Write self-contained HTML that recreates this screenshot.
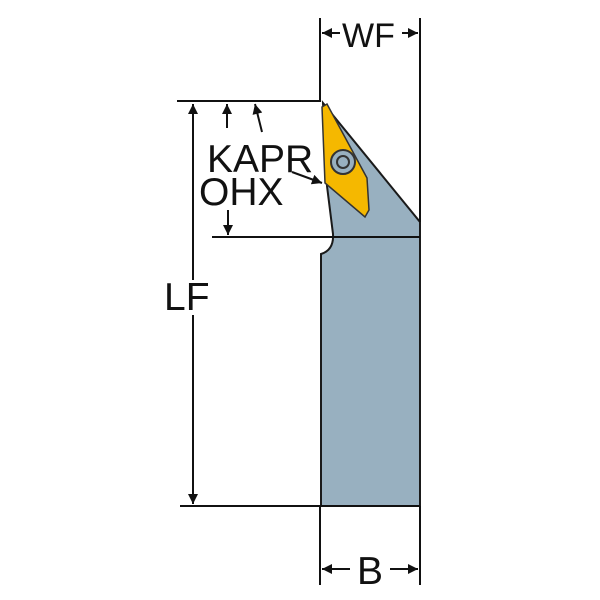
<!DOCTYPE html>
<html><head><style>body{margin:0;background:#fff}svg{display:block}</style></head><body>
<svg width="600" height="600" viewBox="0 0 600 600" xmlns="http://www.w3.org/2000/svg">
<defs><marker id="a" viewBox="0 0 10 10" refX="10" refY="5" markerWidth="7" markerHeight="5" orient="auto" markerUnits="strokeWidth"><path d="M0,0 L10,5 L0,10z" fill="#111"/></marker></defs>
<g fill="#111" font-family="Liberation Sans, sans-serif" font-size="39">
<path d="M323,103 L420,222 L420,506 L321,506 L321,254 Q334,250 333,234 L327,186 Z" fill="#98b0c0" stroke="#1a1a1a" stroke-width="2"/>
<path d="M322,107 L327,104 L367,178 L369,210 L365,217 L325,183 Z" fill="#f5b800" stroke="#333" stroke-width="1.5"/>
<circle cx="343" cy="162" r="12" fill="#98b0c0" stroke="#333" stroke-width="2"/>
<circle cx="343" cy="162" r="6" fill="none" stroke="#333" stroke-width="2"/>
<g stroke="#111" stroke-width="2" fill="none">
<line x1="177" y1="101" x2="321" y2="101"/>
<line x1="212" y1="237" x2="420" y2="237"/>
<line x1="180" y1="506" x2="420" y2="506"/>
<line x1="320" y1="18" x2="320" y2="101"/>
<line x1="420" y1="18" x2="420" y2="222"/>
<line x1="320" y1="506" x2="320" y2="585"/>
<line x1="420" y1="506" x2="420" y2="585"/>
<line x1="193" y1="280" x2="193" y2="104" marker-end="url(#a)"/>
<line x1="193" y1="315" x2="193" y2="504" marker-end="url(#a)"/>
<line x1="227" y1="128" x2="227" y2="104" marker-end="url(#a)"/>
<line x1="262" y1="132" x2="255" y2="104" marker-end="url(#a)"/>
<line x1="228" y1="210" x2="228" y2="235" marker-end="url(#a)"/>
<line x1="292" y1="172" x2="322" y2="183" marker-end="url(#a)"/>
<line x1="340" y1="33" x2="322" y2="33" marker-end="url(#a)"/>
<line x1="402" y1="33" x2="418" y2="33" marker-end="url(#a)"/>
<line x1="350" y1="569" x2="322" y2="569" marker-end="url(#a)"/>
<line x1="390" y1="569" x2="418" y2="569" marker-end="url(#a)"/>
</g>
<text x="342" y="47" font-size="34">WF</text>
<text x="207" y="172">KAPR</text>
<text x="199" y="205">OHX</text>
<text x="164" y="310">LF</text>
<text x="357" y="584">B</text>
</g>
</svg>
</body></html>
